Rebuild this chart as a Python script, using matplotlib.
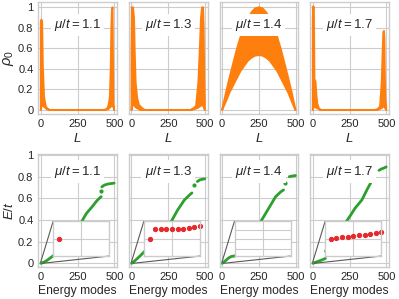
import numpy as np
import matplotlib
matplotlib.use('Agg')
import matplotlib.pyplot as plt
from mpl_toolkits.axes_grid1.inset_locator import mark_inset

plt.style.use('seaborn-v0_8-whitegrid')
plt.rcParams['font.family'] = ['Liberation Sans', 'DejaVu Sans']
plt.rcParams['mathtext.fontset'] = 'custom'
plt.rcParams['mathtext.rm'] = 'Liberation Sans'
plt.rcParams['mathtext.it'] = 'Liberation Sans:italic'
plt.rcParams['text.color'] = '.15'
plt.rcParams['axes.labelcolor'] = '.15'
plt.rcParams['xtick.color'] = '.15'
plt.rcParams['ytick.color'] = '.15'

mus = ['1.1', '1.3', '1.4', '1.7']
orange = '#ff7f0e'
green = '#2ca02c'
red = '#e8282b'

# rho_0 along the chain: upper and lower envelope of the oscillating density
rho_up_L = [
    [0, 4, 9, 14, 22, 33, 45, 60, 430, 450, 462, 470, 476, 480, 484, 488, 491, 494, 499],
    [0, 3, 10, 17, 22, 28, 39, 51, 70, 90, 400, 425, 439, 455, 465, 473, 480, 487, 491, 495, 499],
    [0, 25, 50, 75, 100, 125, 150, 175, 200, 225, 250, 275, 300, 325, 350, 375, 400, 425, 450, 475, 499],
    [0, 3, 7, 9, 11, 15, 19, 24, 31, 40, 52, 420, 445, 458, 469, 476, 480, 484, 487, 490, 494, 499],
]
rho_up = [
    [0.85, 0.88, 0.86, 0.42, 0.13, 0.04, 0.01, 0.0, 0.0, 0.01, 0.05, 0.13, 0.42, 0.8, 0.97, 1.0, 0.5, 0.05, 0.0],
    [0.6, 1.0, 1.0, 0.9, 0.56, 0.27, 0.11, 0.05, 0.02, 0.0, 0.0, 0.02, 0.04, 0.27, 0.6, 0.9, 1.0, 1.0, 0.8, 0.3, 0.05],
    [0.0, 0.16, 0.31, 0.45, 0.59, 0.71, 0.81, 0.89, 0.95, 0.99, 1.0, 0.99, 0.95, 0.89, 0.81, 0.71, 0.59, 0.45, 0.31, 0.16, 0.0],
    [0.9, 1.01, 1.0, 0.7, 0.3, 0.29, 0.27, 0.15, 0.06, 0.02, 0.0, 0.0, 0.01, 0.04, 0.27, 0.6, 0.76, 0.77, 0.7, 0.35, 0.1, 0.03],
]
rho_lo_L = [
    [0, 5, 15, 25, 40, 60, 440, 460, 475, 485, 492, 499],
    [0, 5, 12, 20, 35, 60, 410, 450, 470, 485, 499],
    [0, 25, 50, 75, 100, 125, 150, 175, 200, 225, 250, 275, 300, 325, 350, 375, 400, 425, 450, 475, 499],
    [0, 5, 15, 25, 40, 55, 440, 470, 485, 499],
]
rho_lo = [
    [0.0, 0.04, 0.04, 0.03, 0.01, 0.0, 0.0, 0.01, 0.03, 0.05, 0.05, 0.0],
    [0.0, 0.05, 0.05, 0.04, 0.02, 0.0, 0.0, 0.02, 0.04, 0.05, 0.0],
    [0.0, 0.08, 0.17, 0.24, 0.31, 0.38, 0.43, 0.48, 0.51, 0.53, 0.535, 0.53, 0.51, 0.48, 0.43, 0.38, 0.31, 0.24, 0.17, 0.08, 0.0],
    [0.0, 0.03, 0.03, 0.02, 0.01, 0.0, 0.0, 0.02, 0.04, 0.0],
]

# sorted energies E/t, as visible segments (jumps between them)
E_modes = [
    [([0, 20, 40, 60, 80, 120, 160, 200, 240, 280, 310, 348, 383, 406, 411],
      [0.0, 0.01, 0.025, 0.045, 0.065, 0.11, 0.17, 0.23, 0.30, 0.39, 0.46, 0.52, 0.58, 0.61, 0.615]),
     ([410], [0.67]),
     ([415, 430, 450, 470, 499], [0.705, 0.72, 0.73, 0.735, 0.74])],
    [([0, 20, 40, 60, 87, 130, 180, 230, 272, 313, 360, 394, 411],
      [0.0, 0.02, 0.045, 0.07, 0.107, 0.17, 0.25, 0.32, 0.39, 0.49, 0.585, 0.63, 0.65]),
     ([425], [0.72]),
     ([448, 465, 480, 499], [0.755, 0.77, 0.775, 0.78])],
    [([0, 20, 40, 60, 75, 88, 130, 180, 230, 265, 318, 364, 399, 418],
      [0.0, 0.02, 0.045, 0.062, 0.066, 0.067, 0.12, 0.2, 0.3, 0.39, 0.51, 0.615, 0.66, 0.677]),
     ([427], [0.74]),
     ([457, 475, 499], [0.80, 0.805, 0.81])],
    [([0, 20, 40, 60, 86], [0.0, 0.01, 0.02, 0.03, 0.045]),
     ([86, 120, 160, 200, 230, 260, 288, 334, 369, 397],
      [0.11, 0.18, 0.26, 0.33, 0.39, 0.45, 0.51, 0.585, 0.68, 0.75]),
     ([450, 465, 485, 499], [0.858, 0.87, 0.88, 0.89])],
]

# lowest modes shown in the zoomed inset
zoom_n = [[0], list(range(10)), [], list(range(10))]
zoom_E = [
    [0.0049],
    [0.0049, 0.0077, 0.0077, 0.0077, 0.0077, 0.0078, 0.0078, 0.0080, 0.0082, 0.0085],
    [],
    [0.0049, 0.0051, 0.0053, 0.0055, 0.0057, 0.0059, 0.0061, 0.0063, 0.0066, 0.0069],
]

yticks = [0, 0.2, 0.4, 0.6, 0.8, 1.0]
yticklabels = ['0', '0.2', '0.4', '0.6', '0.8', '1']

fig = plt.figure(figsize=(3.99, 2.99), dpi=100)
W, H = 399, 299
lefts = [38.3, 129.0, 219.6, 310.3]
w = 78.5

for i in range(4):
    # top row: density
    ax = fig.add_axes([lefts[i] / W, (H - 114) / H, w / W, 112 / H])
    xs = np.concatenate([rho_up_L[i], rho_lo_L[i][::-1]])
    ys = np.concatenate([rho_up[i], rho_lo[i][::-1]])
    ax.fill(xs, ys, color=orange, lw=1.4, joinstyle='round')
    ax.set_xlim(-17, 517)
    ax.set_ylim(-0.039, 1.052)
    ax.set_xticks([0, 250, 500])
    ax.set_yticks(yticks)
    ax.set_yticklabels(yticklabels)
    ax.tick_params(labelsize=8, pad=3.5)
    ax.set_xlabel('$L$', fontsize=9.5)
    ax.xaxis.set_label_coords(0.5, -0.165)
    ax.text(250, 0.83, r'$\mu/t = %s$' % mus[i], ha='center', va='center', fontsize=9.5,
            bbox=dict(boxstyle='square,pad=0.22', fc='white', ec='none'))
    if i == 0:
        ax.set_ylabel(r'$\rho_0$', fontsize=10.5)
        ax.yaxis.set_label_coords(-0.29, 0.5)
    else:
        ax.tick_params(labelleft=False)

    # bottom row: energies
    bx = fig.add_axes([lefts[i] / W, (H - 267) / H, w / W, 113 / H])
    for xs_, ys_ in E_modes[i]:
        if len(xs_) == 1:
            bx.plot(xs_, ys_, 'o', color=green, ms=2)
        else:
            bx.plot(xs_, ys_, '-', color=green, lw=2, solid_capstyle='round')
    bx.set_xlim(-17, 517)
    bx.set_ylim(-0.034, 1.009)
    bx.set_xticks([0, 250, 500])
    bx.set_yticks(yticks)
    bx.set_yticklabels(yticklabels)
    bx.tick_params(labelsize=8, pad=3.5)
    bx.set_xlabel('Energy modes', fontsize=8.7)
    bx.xaxis.set_label_coords(0.5, -0.16)
    bx.text(250, 0.846, r'$\mu/t = %s$' % mus[i], ha='center', va='center', fontsize=9.5,
            bbox=dict(boxstyle='square,pad=0.25', fc='white', ec='none'))
    if i == 0:
        bx.set_ylabel('$E/t$', fontsize=9.5)
        bx.yaxis.set_label_coords(-0.29, 0.5)
    else:
        bx.tick_params(labelleft=False)

    ins = bx.inset_axes([0.19, 0.097, 0.715, 0.31])
    ins.set_facecolor('white')
    if zoom_n[i]:
        ins.plot(zoom_n[i], zoom_E[i], 'o', color=red, ms=2.8, clip_on=False)
    ins.set_xlim(-1, 9)
    ins.set_ylim(0, 0.01)
    ins.set_xticks([4])
    if i == 2:
        ins.set_yticks([0.0021, 0.0048, 0.0074])
    else:
        ins.set_yticks([0.0049])
    ins.set_xticklabels([])
    ins.set_yticklabels([])
    ins.tick_params(length=0)
    mark_inset(bx, ins, loc1=2, loc2=4, fc='none', ec='0.35', lw=0.8)

fig.savefig('out.png', dpi=100)
